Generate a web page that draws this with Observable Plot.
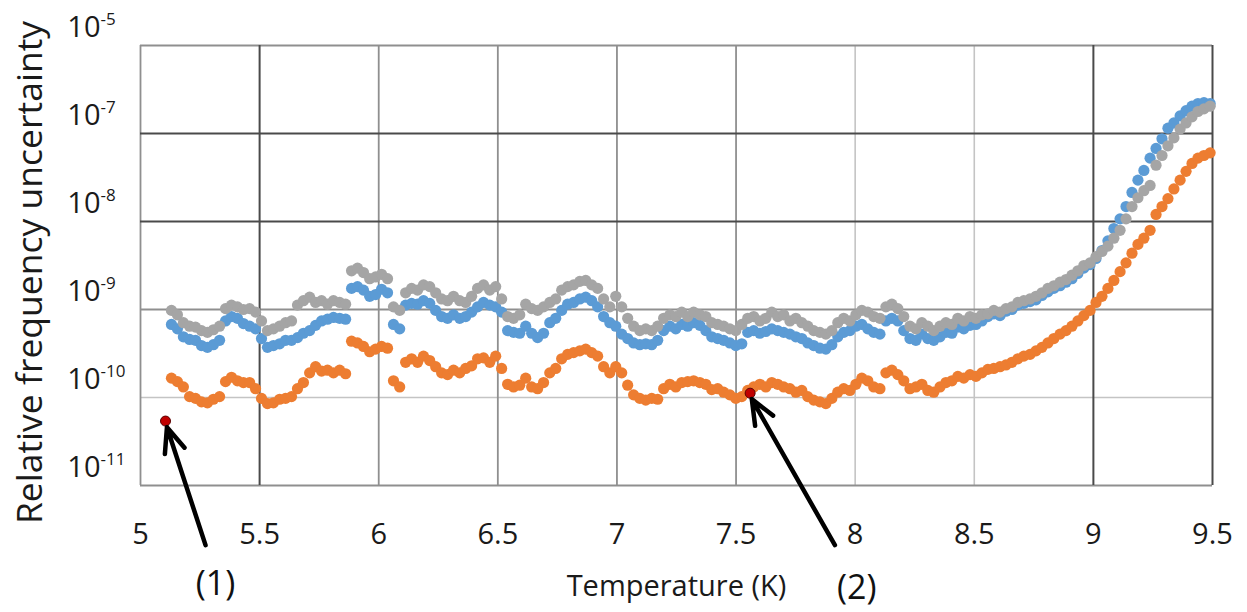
<!DOCTYPE html>
<html>
<head>
<meta charset="utf-8">
<script src="https://cdn.jsdelivr.net/npm/d3@7"></script>
<script src="https://cdn.jsdelivr.net/npm/@observablehq/plot@0.6"></script>
<style>
  html, body { margin: 0; padding: 0; background: #fff; }
  #chart { width: 1247px; height: 612px; }
</style>
</head>
<body>
<div id="chart"></div>
<script>
// Temperature samples (K)
const temperature = [5.130,5.155,5.180,5.206,5.231,5.256,5.281,5.306,5.332,5.357,5.382,5.407,5.432,5.458,5.483,5.508,
5.533,5.558,5.584,5.609,5.634,5.659,5.684,5.710,5.735,5.760,5.785,5.810,5.836,5.861,5.886,5.911,5.936,5.962,5.987,6.012,
6.037,6.062,6.088,6.113,6.138,6.163,6.188,6.214,6.239,6.264,6.289,6.314,6.340,6.365,6.390,6.415,6.440,6.466,6.491,6.516,
6.541,6.566,6.592,6.617,6.642,6.667,6.692,6.718,6.743,6.768,6.793,6.818,6.844,6.869,6.894,6.919,6.944,6.970,6.995,7.020,
7.045,7.070,7.096,7.121,7.146,7.171,7.196,7.222,7.247,7.272,7.297,7.322,7.348,7.373,7.398,7.423,7.448,7.474,7.499,7.524,
7.549,7.574,7.600,7.625,7.650,7.675,7.700,7.726,7.751,7.776,7.801,7.826,7.852,7.877,7.902,7.927,7.952,7.978,8.003,8.028,
8.053,8.078,8.104,8.129,8.154,8.179,8.204,8.230,8.255,8.280,8.305,8.330,8.356,8.381,8.406,8.431,8.456,8.482,8.507,8.532,
8.557,8.582,8.608,8.633,8.658,8.683,8.708,8.734,8.759,8.784,8.809,8.834,8.860,8.885,8.910,8.935,8.960,8.986,9.011,9.036,
9.061,9.086,9.112,9.137,9.162,9.187,9.212,9.238,9.263,9.288,9.313,9.338,9.364,9.389,9.414,9.439,9.464,9.490];

// log10 of the relative frequency uncertainty
const grayLog10 = [-9.01,-9.06,-9.15,-9.19,-9.20,-9.24,-9.26,-9.23,-9.19,-8.99,-8.95,-8.97,-9.00,-8.99,-9.03,-9.13,
-9.24,-9.22,-9.19,-9.15,-9.13,-8.95,-8.90,-8.86,-8.92,-8.90,-8.94,-8.90,-8.92,-8.94,-8.56,-8.53,-8.58,-8.65,-8.63,-8.60,
-8.65,-8.97,-9.01,-8.81,-8.76,-8.78,-8.72,-8.74,-8.81,-8.88,-8.90,-8.85,-8.90,-8.92,-8.85,-8.76,-8.72,-8.78,-8.74,-8.88,
-9.08,-9.10,-9.06,-8.94,-8.99,-9.01,-8.97,-8.92,-8.88,-8.78,-8.74,-8.72,-8.68,-8.67,-8.72,-8.76,-8.88,-8.97,-8.85,-8.97,
-9.10,-9.19,-9.24,-9.22,-9.24,-9.19,-9.10,-9.06,-9.08,-9.03,-9.08,-9.03,-9.06,-9.08,-9.15,-9.17,-9.19,-9.22,-9.24,-9.17,
-9.10,-9.08,-9.13,-9.10,-9.03,-9.08,-9.06,-9.13,-9.10,-9.15,-9.19,-9.24,-9.26,-9.28,-9.24,-9.15,-9.10,-9.13,-9.06,-9.01,
-9.03,-9.08,-9.10,-8.97,-8.94,-8.99,-9.08,-9.19,-9.22,-9.15,-9.19,-9.24,-9.19,-9.15,-9.17,-9.10,-9.13,-9.08,-9.10,-9.06,
-9.05,-9.01,-9.03,-8.99,-8.97,-8.92,-8.90,-8.88,-8.85,-8.81,-8.76,-8.73,-8.69,-8.66,-8.61,-8.56,-8.50,-8.47,-8.40,-8.34,
-8.28,-8.19,-8.10,-7.97,-7.83,-7.73,-7.65,-7.59,-7.36,-7.25,-7.14,-7.05,-6.95,-6.88,-6.81,-6.75,-6.72,-6.69];

const blueLog10 = [-9.17,-9.22,-9.31,-9.34,-9.35,-9.41,-9.43,-9.40,-9.35,-9.13,-9.08,-9.10,-9.16,-9.19,-9.22,-9.33,
-9.43,-9.41,-9.39,-9.35,-9.35,-9.32,-9.27,-9.24,-9.18,-9.13,-9.11,-9.09,-9.10,-9.11,-8.76,-8.74,-8.78,-8.85,-8.83,-8.77,
-8.81,-9.17,-9.22,-8.95,-8.93,-8.94,-8.90,-8.93,-9.01,-9.08,-9.10,-9.06,-9.10,-9.08,-9.03,-8.97,-8.92,-8.95,-8.97,-9.03,
-9.24,-9.26,-9.27,-9.19,-9.27,-9.32,-9.27,-9.15,-9.10,-9.01,-8.94,-8.92,-8.88,-8.86,-8.90,-8.97,-9.08,-9.15,-9.19,-9.28,
-9.33,-9.38,-9.40,-9.39,-9.40,-9.35,-9.24,-9.19,-9.22,-9.17,-9.19,-9.15,-9.18,-9.24,-9.31,-9.33,-9.35,-9.38,-9.41,-9.39,
-9.26,-9.24,-9.27,-9.25,-9.22,-9.24,-9.26,-9.28,-9.31,-9.33,-9.38,-9.41,-9.44,-9.45,-9.40,-9.31,-9.26,-9.24,-9.19,-9.17,
-9.22,-9.26,-9.28,-9.13,-9.10,-9.13,-9.24,-9.33,-9.35,-9.28,-9.33,-9.35,-9.31,-9.26,-9.27,-9.20,-9.22,-9.18,-9.17,-9.13,
-9.08,-9.05,-9.07,-9.02,-9.00,-8.95,-8.93,-8.91,-8.89,-8.84,-8.80,-8.76,-8.73,-8.69,-8.65,-8.59,-8.53,-8.49,-8.42,-8.33,
-8.22,-8.08,-7.97,-7.83,-7.67,-7.53,-7.42,-7.28,-7.17,-7.06,-6.94,-6.88,-6.80,-6.74,-6.69,-6.66,-6.65,-6.66];

const orangeLog10 = [-9.78,-9.82,-9.88,-9.99,-10.01,-10.05,-10.06,-10.02,-9.99,-9.82,-9.77,-9.81,-9.83,-9.83,-9.90,-10.01,
-10.07,-10.06,-10.02,-10.01,-9.99,-9.90,-9.83,-9.72,-9.65,-9.70,-9.69,-9.72,-9.69,-9.73,-9.36,-9.38,-9.42,-9.48,-9.45,-9.42,
-9.44,-9.81,-9.88,-9.60,-9.56,-9.60,-9.53,-9.58,-9.65,-9.72,-9.74,-9.69,-9.72,-9.67,-9.64,-9.56,-9.55,-9.60,-9.53,-9.67,
-9.85,-9.88,-9.86,-9.78,-9.88,-9.90,-9.83,-9.72,-9.67,-9.56,-9.51,-9.49,-9.47,-9.45,-9.49,-9.53,-9.65,-9.72,-9.65,-9.72,
-9.86,-9.97,-10.01,-10.03,-10.01,-10.02,-9.90,-9.85,-9.88,-9.83,-9.82,-9.81,-9.83,-9.85,-9.91,-9.90,-9.94,-9.97,-10.01,-9.99,
-9.92,-9.88,-9.85,-9.88,-9.83,-9.85,-9.88,-9.90,-9.94,-9.92,-9.99,-10.03,-10.05,-10.07,-10.01,-9.94,-9.90,-9.92,-9.85,-9.78,
-9.81,-9.88,-9.90,-9.72,-9.69,-9.74,-9.81,-9.90,-9.88,-9.85,-9.92,-9.94,-9.88,-9.83,-9.81,-9.76,-9.78,-9.74,-9.76,-9.72,
-9.68,-9.67,-9.65,-9.63,-9.60,-9.56,-9.53,-9.51,-9.47,-9.43,-9.38,-9.33,-9.28,-9.24,-9.19,-9.13,-9.07,-9.01,-8.92,-8.85,
-8.76,-8.67,-8.57,-8.47,-8.36,-8.26,-8.19,-8.10,-7.92,-7.83,-7.74,-7.63,-7.53,-7.43,-7.34,-7.28,-7.25,-7.22];

// Highlighted points (1) and (2)
const markedT = [5.105, 7.559];
const markedValue = [5.4e-11, 1.12e-10];
const markedLabel = ["(1)", "(2)"];
// Arrow tails (label side) and heads, in data coordinates
const arrowTailT = [5.273, 7.915];
const arrowTailValue = [2.1e-12, 2.1e-12];
const arrowHeadT = [5.111, 7.566];
const arrowHeadValue = [4.6e-11, 9.6e-11];
const labelT = [5.315, 8.007];
const labelValue = [7.6e-13, 6.9e-13];

// Axes
const xTicks = [5, 5.5, 6, 6.5, 7, 7.5, 8, 8.5, 9, 9.5];
const yTicks = [1e-11, 1e-10, 1e-9, 1e-8, 1e-7, 1e-6];
const yTickExponents = ["-11", "-10", "-9", "-8", "-7", "-5"];
const xTitle = "Temperature (K)";
const yTitle = "Relative frequency uncertainty";

const toRows = (logs) => logs.map((v, i) => ({T: temperature[i], u: Math.pow(10, v)}));
const gray = toRows(grayLog10);
const blue = toRows(blueLog10);
const orange = toRows(orangeLog10);

const marked = markedT.map((t, i) => ({T: t, u: markedValue[i], label: markedLabel[i],
  t1: arrowTailT[i], u1: arrowTailValue[i], t2: arrowHeadT[i], u2: arrowHeadValue[i],
  lt: labelT[i], lu: labelValue[i]}));

const darkX = [5.5, 9, 9.5], midX = [5, 6, 6.5, 7, 7.5], lightX = [8, 8.5];
const darkY = [1e-8, 1e-7], midY = [1e-11, 1e-9, 1e-6], lightY = [1e-10];

const chart = Plot.plot({
  width: 1247,
  height: 612,
  marginLeft: 140,
  marginRight: 35,
  marginTop: 45,
  marginBottom: 127,
  style: {fontFamily: "'Open Sans', sans-serif", fontSize: "29px", color: "#1a1a1a", background: "#fff"},
  x: {domain: [5, 9.5], ticks: xTicks, tickFormat: d => String(d), tickSize: 0, tickPadding: 38, label: null},
  y: {type: "log", domain: [1e-11, 1e-6], axis: null},
  marks: [
    Plot.ruleX(lightX, {stroke: "#c4c4c4", strokeWidth: 1.6}),
    Plot.ruleY(lightY, {stroke: "#c4c4c4", strokeWidth: 1.6}),
    Plot.ruleX(midX, {stroke: "#8f8f8f", strokeWidth: 1.8}),
    Plot.ruleY(midY, {stroke: "#8f8f8f", strokeWidth: 1.8}),
    Plot.ruleX(darkX, {stroke: "#4a4a4a", strokeWidth: 2}),
    Plot.ruleY(darkY, {stroke: "#4a4a4a", strokeWidth: 2}),
    Plot.dot(orange, {x: "T", y: "u", r: 5.6, fill: "#ed7d31", stroke: null}),
    Plot.dot(blue, {x: "T", y: "u", r: 5.6, fill: "#5b9bd5", stroke: null}),
    Plot.dot(gray, {x: "T", y: "u", r: 5.6, fill: "#a5a5a5", stroke: null}),
    Plot.dot(marked, {x: "T", y: "u", r: 5, fill: "#c00000", stroke: "#5a0000", strokeWidth: 1}),
    Plot.arrow(marked, {x1: "t1", y1: "u1", x2: "t2", y2: "u2", stroke: "#000", strokeWidth: 4.5, headLength: 9, headAngle: 45}),
    Plot.text(marked, {x: "lt", y: "lu", text: "label", fontSize: 34, fill: "#111"}),
    // y tick labels: "10" with a raised exponent
    Plot.text(yTicks, {y: d => d, text: () => "10", frameAnchor: "left", textAnchor: "end", dx: -40, dy: -18, fontSize: 29, fill: "#1a1a1a"}),
    Plot.text(yTicks, {y: d => d, text: (d, i) => yTickExponents[i], frameAnchor: "left", textAnchor: "start", dx: -40, dy: -26, fontSize: 17, fill: "#1a1a1a"}),
    // axis titles
    Plot.text([xTitle], {frameAnchor: "bottom", dy: 110, fontSize: 29, fill: "#1a1a1a"}),
    Plot.text([yTitle], {frameAnchor: "left", textAnchor: "middle", dx: -110, dy: 7, rotate: -90, fontSize: 35.5, fill: "#1a1a1a"})
  ]
});
document.getElementById("chart").appendChild(chart);
</script>
</body>
</html>
